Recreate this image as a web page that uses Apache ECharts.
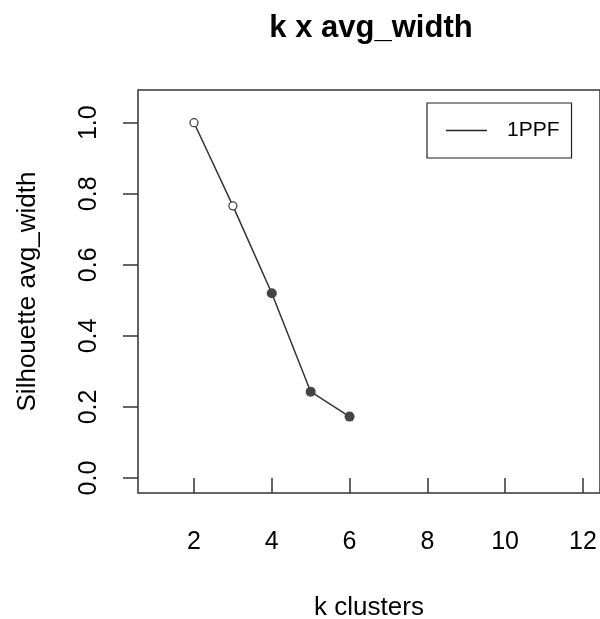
<!DOCTYPE html>
<html>
<head>
<meta charset="utf-8">
<script src="https://cdn.jsdelivr.net/npm/echarts@6/dist/echarts.min.js"></script>
<style>
  html, body { margin: 0; padding: 0; background: #fff; }
  #main { width: 600px; height: 619px; }
</style>
</head>
<body>
<div id="main"></div>
<script>
// data
var kValues = [2, 3, 4, 5, 6];
var avgWidth = [1.0, 0.766, 0.520, 0.243, 0.173];
var openPoint = [true, true, false, false, false];
var xTicks = [2, 4, 6, 8, 10, 12];
var yTicks = [0, 0.2, 0.4, 0.6, 0.8, 1.0];
var seriesName = '1PPF';

var myChart = echarts.init(document.getElementById('main'));

var points = [];
for (var i = 0; i < kValues.length; i++) {
    points.push({
        value: [kValues[i], avgWidth[i]],
        symbolSize: openPoint[i] ? 8 : 10,
        itemStyle: openPoint[i]
            ? { color: '#fff', borderColor: '#444', borderWidth: 1.3 }
            : { color: '#444', borderColor: '#444', borderWidth: 0 }
    });
}

var font = 'Liberation Sans, Arial, sans-serif';

option = {
    animation: false,
    title: {
        text: 'k x avg_width',
        left: 366,
        top: 8,
        textAlign: 'center',
        textStyle: { fontFamily: font, fontSize: 31, fontWeight: 'bold', color: '#000' }
    },
    legend: {
        left: 427,
        top: 103,
        data: [seriesName],
        icon: 'rect',
        itemWidth: 41,
        itemHeight: 1.5,
        padding: [17, 12, 17, 19],
        borderColor: '#222',
        borderWidth: 1.2,
        borderRadius: 0,
        itemStyle: { color: '#222' },
        textStyle: { fontFamily: font, fontSize: 21, color: '#000', padding: [0, 0, 0, 15] }
    },
    grid: {
        left: 138,
        right: 0,
        top: 90,
        bottom: 126,
        show: true,
        borderColor: '#333',
        borderWidth: 1.5,
        containLabel: false,
        outerBoundsMode: 'none'
    },
    xAxis: {
        type: 'value',
        min: 0.56,
        max: 12.44,
        name: 'k clusters',
        nameLocation: 'middle',
        nameGap: 102,
        nameTextStyle: { fontFamily: font, fontSize: 26, color: '#000' },
        axisLine: { show: false },
        splitLine: { show: false },
        axisTick: {
            show: true, length: 15, inside: false,
            customValues: xTicks,
            lineStyle: { color: '#333', width: 1.5 }
        },
        axisLabel: {
            customValues: xTicks,
            margin: 37,
            fontFamily: font, fontSize: 25, color: '#000'
        }
    },
    yAxis: {
        type: 'value',
        min: -0.042,
        max: 1.092,
        name: 'Silhouette avg_width',
        nameLocation: 'middle',
        nameGap: 97,
        nameRotate: 90,
        nameTextStyle: { fontFamily: font, fontSize: 26, color: '#000' },
        axisLine: { show: false },
        splitLine: { show: false },
        axisTick: {
            show: true, length: 15, inside: false,
            customValues: yTicks,
            lineStyle: { color: '#333', width: 1.5 }
        },
        axisLabel: {
            customValues: yTicks,
            rotate: 90,
            margin: 36,
            fontFamily: font, fontSize: 25, color: '#000',
            formatter: function (v) { return v.toFixed(1); }
        }
    },
    series: [{
        name: seriesName,
        type: 'line',
        symbol: 'circle',
        showSymbol: true,
        color: '#333',
        lineStyle: { color: '#333', width: 1.5 },
        data: points
    }]
};
myChart.setOption(option);
</script>
</body>
</html>
